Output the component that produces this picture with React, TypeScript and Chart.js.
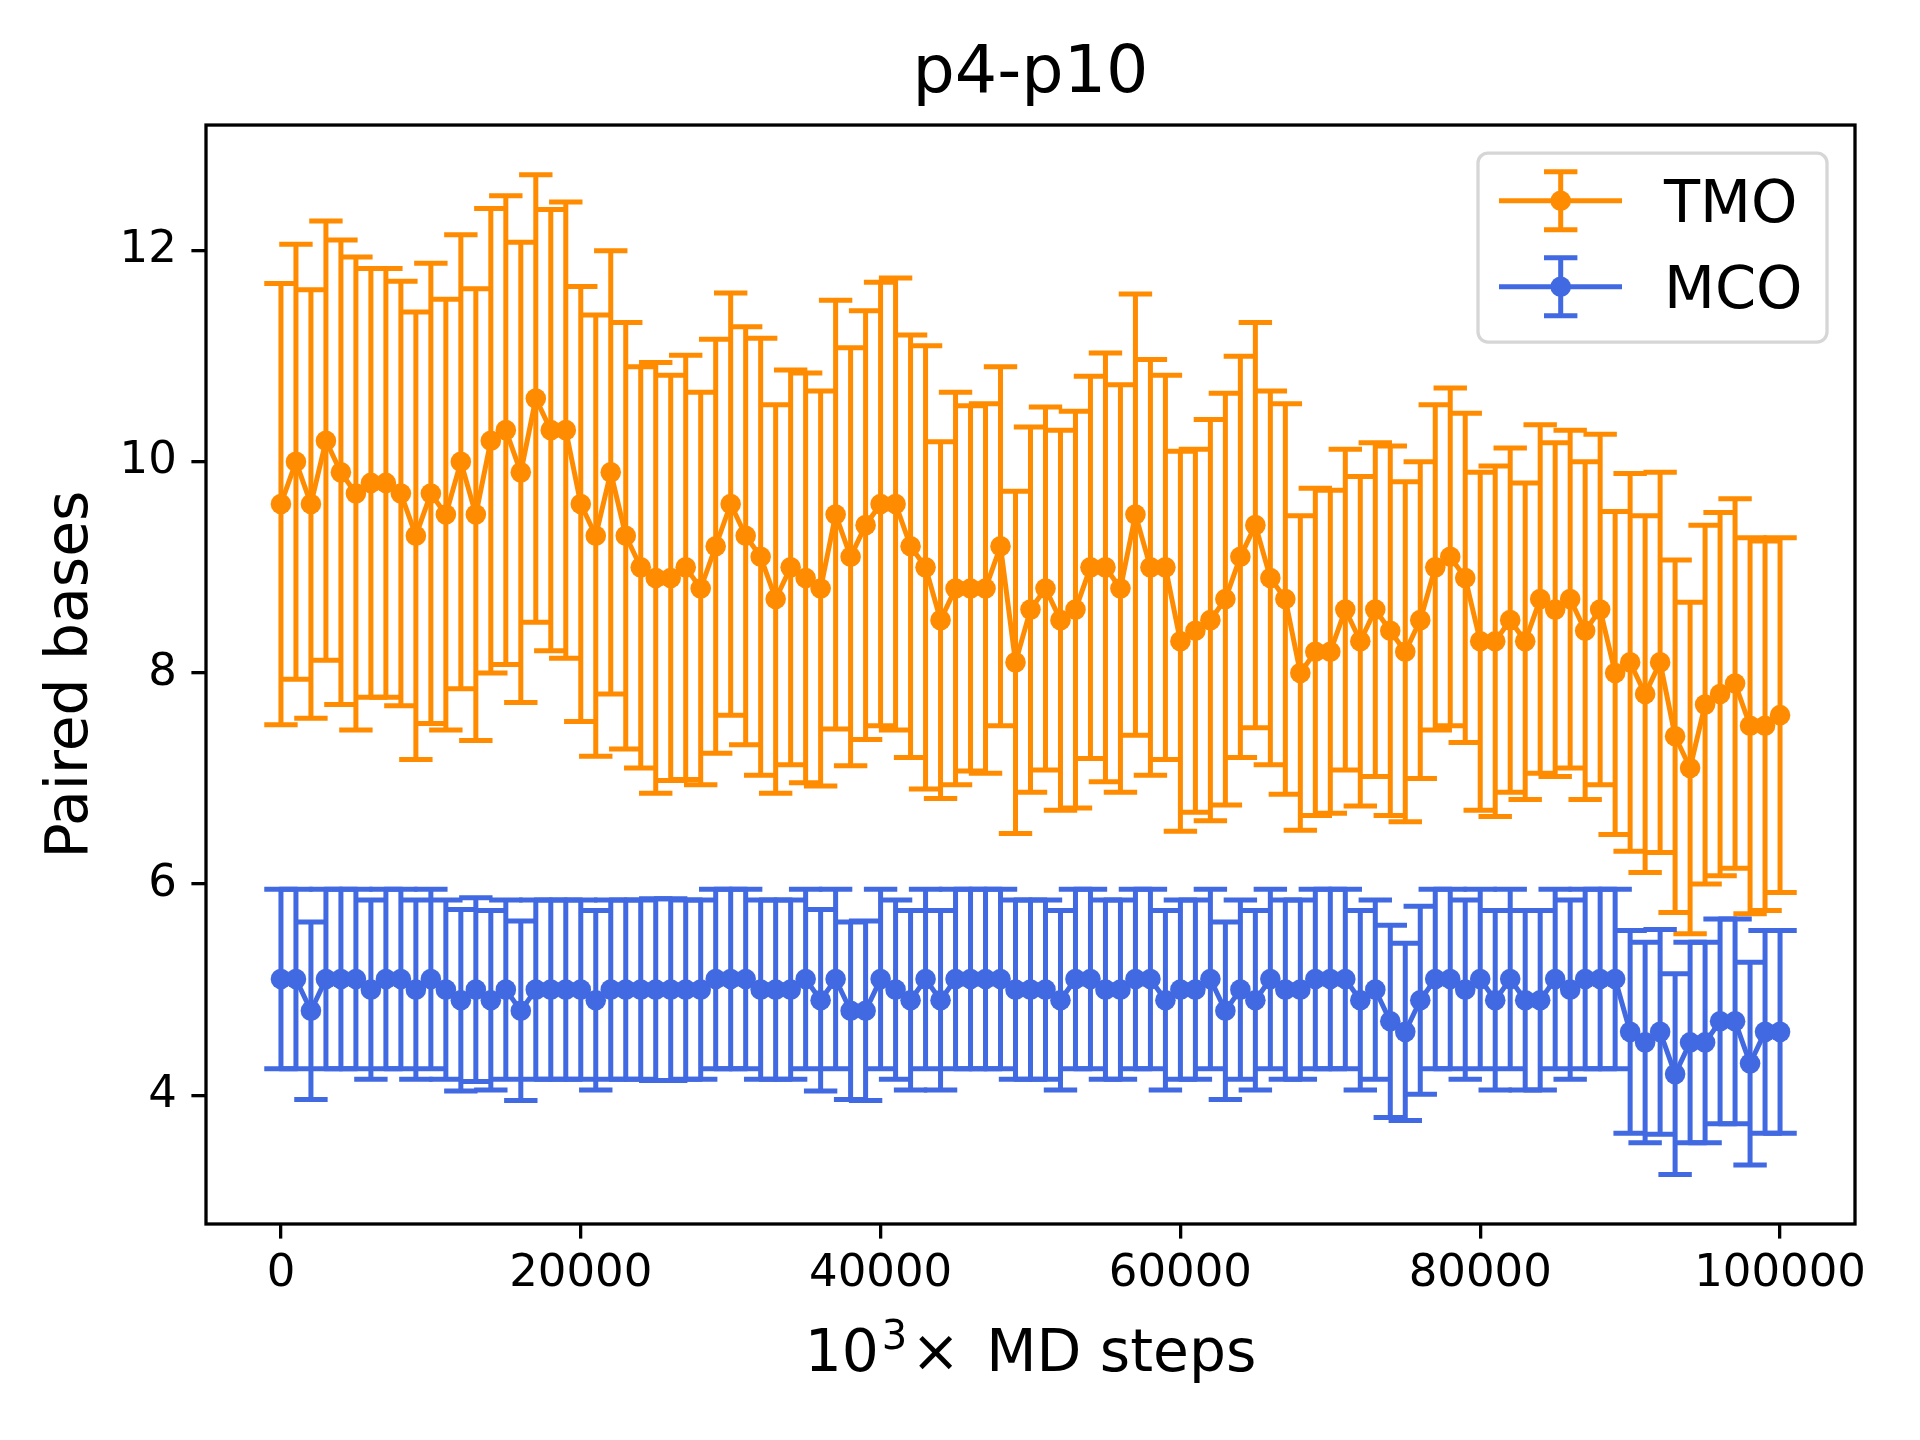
import { useEffect, useRef } from 'react';
import { Chart, registerables } from 'chart.js';

Chart.register(...registerables);

const steps = [
  0, 1000, 2000, 3000, 4000, 5000, 6000, 7000, 8000, 9000,
  10000, 11000, 12000, 13000, 14000, 15000, 16000, 17000, 18000, 19000,
  20000, 21000, 22000, 23000, 24000, 25000, 26000, 27000, 28000, 29000,
  30000, 31000, 32000, 33000, 34000, 35000, 36000, 37000, 38000, 39000,
  40000, 41000, 42000, 43000, 44000, 45000, 46000, 47000, 48000, 49000,
  50000, 51000, 52000, 53000, 54000, 55000, 56000, 57000, 58000, 59000,
  60000, 61000, 62000, 63000, 64000, 65000, 66000, 67000, 68000, 69000,
  70000, 71000, 72000, 73000, 74000, 75000, 76000, 77000, 78000, 79000,
  80000, 81000, 82000, 83000, 84000, 85000, 86000, 87000, 88000, 89000,
  90000, 91000, 92000, 93000, 94000, 95000, 96000, 97000, 98000, 99000,
  100000,
];

const tmoMean = [
  9.6, 10.0, 9.6, 10.2, 9.9, 9.7, 9.8, 9.8, 9.7, 9.3,
  9.7, 9.5, 10.0, 9.5, 10.2, 10.3, 9.9, 10.6, 10.3, 10.3,
  9.6, 9.3, 9.9, 9.3, 9.0, 8.9, 8.9, 9.0, 8.8, 9.2,
  9.6, 9.3, 9.1, 8.7, 9.0, 8.9, 8.8, 9.5, 9.1, 9.4,
  9.6, 9.6, 9.2, 9.0, 8.5, 8.8, 8.8, 8.8, 9.2, 8.1,
  8.6, 8.8, 8.5, 8.6, 9.0, 9.0, 8.8, 9.5, 9.0, 9.0,
  8.3, 8.4, 8.5, 8.7, 9.1, 9.4, 8.9, 8.7, 8.0, 8.2,
  8.2, 8.6, 8.3, 8.6, 8.4, 8.2, 8.5, 9.0, 9.1, 8.9,
  8.3, 8.3, 8.5, 8.3, 8.7, 8.6, 8.7, 8.4, 8.6, 8.0,
  8.1, 7.8, 8.1, 7.4, 7.1, 7.7, 7.8, 7.9, 7.5, 7.5,
  7.6,
];

const tmoErr = [
  2.09, 2.06, 2.03, 2.08, 2.2, 2.24, 2.03, 2.03, 2.01, 2.12,
  2.18, 2.04, 2.15, 2.14, 2.2, 2.22, 2.18, 2.12, 2.09, 2.16,
  2.06, 2.09, 2.1, 2.02, 1.9, 2.04, 1.92, 2.01, 1.86, 1.96,
  2.0, 1.98, 2.07, 1.84, 1.87, 1.94, 1.87, 2.03, 1.98, 2.03,
  2.1, 2.14, 2.0, 2.1, 1.69, 1.86, 1.73, 1.75, 1.7, 1.62,
  1.73, 1.72, 1.8, 1.88, 1.81, 2.03, 1.93, 2.09, 1.97, 1.82,
  1.8, 1.72, 1.9, 1.95, 1.9, 1.92, 1.77, 1.85, 1.49, 1.55,
  1.53, 1.52, 1.56, 1.58, 1.75, 1.61, 1.5, 1.54, 1.6, 1.56,
  1.6, 1.66, 1.63, 1.5, 1.65, 1.58, 1.6, 1.6, 1.66, 1.53,
  1.79, 1.69, 1.8, 1.67, 1.57, 1.7, 1.72, 1.75, 1.78, 1.75,
  1.68,
];

const mcoMean = [
  5.1, 5.1, 4.8, 5.1, 5.1, 5.1, 5.0, 5.1, 5.1, 5.0,
  5.1, 5.0, 4.9, 5.0, 4.9, 5.0, 4.8, 5.0, 5.0, 5.0,
  5.0, 4.9, 5.0, 5.0, 5.0, 5.0, 5.0, 5.0, 5.0, 5.1,
  5.1, 5.1, 5.0, 5.0, 5.0, 5.1, 4.9, 5.1, 4.8, 4.8,
  5.1, 5.0, 4.9, 5.1, 4.9, 5.1, 5.1, 5.1, 5.1, 5.0,
  5.0, 5.0, 4.9, 5.1, 5.1, 5.0, 5.0, 5.1, 5.1, 4.9,
  5.0, 5.0, 5.1, 4.8, 5.0, 4.9, 5.1, 5.0, 5.0, 5.1,
  5.1, 5.1, 4.9, 5.0, 4.7, 4.6, 4.9, 5.1, 5.1, 5.0,
  5.1, 4.9, 5.1, 4.9, 4.9, 5.1, 5.0, 5.1, 5.1, 5.1,
  4.6, 4.5, 4.6, 4.2, 4.5, 4.5, 4.7, 4.7, 4.3, 4.6,
  4.6,
];

const mcoErr = [
  0.85, 0.85, 0.84, 0.85, 0.85, 0.85, 0.85, 0.85, 0.85, 0.85,
  0.85, 0.85, 0.86, 0.87, 0.85, 0.85, 0.85, 0.85, 0.85, 0.85,
  0.85, 0.85, 0.85, 0.85, 0.85, 0.86, 0.86, 0.85, 0.85, 0.85,
  0.85, 0.85, 0.85, 0.85, 0.85, 0.85, 0.86, 0.85, 0.84, 0.85,
  0.85, 0.85, 0.85, 0.85, 0.85, 0.85, 0.85, 0.85, 0.85, 0.85,
  0.85, 0.85, 0.85, 0.85, 0.85, 0.85, 0.85, 0.85, 0.85, 0.85,
  0.85, 0.85, 0.85, 0.84, 0.85, 0.85, 0.85, 0.85, 0.85, 0.85,
  0.85, 0.85, 0.85, 0.85, 0.91, 0.84, 0.89, 0.85, 0.85, 0.85,
  0.85, 0.85, 0.85, 0.85, 0.85, 0.85, 0.85, 0.85, 0.85, 0.85,
  0.96, 0.95, 0.97, 0.95, 0.95, 0.95, 0.97, 0.97, 0.96, 0.96,
  0.96,
];

const xTicks = [0, 20000, 40000, 60000, 80000, 100000];
const yTicks = [4, 6, 8, 10, 12];

const seriesNames = ['TMO', 'MCO'];
const TMO_COLOR = '#ff8c00';
const MCO_COLOR = '#4169e1';

const FONT = "'DejaVu Sans', 'Liberation Sans', sans-serif";
const LINE_W = 5;
const CAP = 16.7;
const MARKER_R = 10.3;

function drawErrorSymbol(ctx: CanvasRenderingContext2D, x: number, yTop: number, yBot: number) {
  ctx.beginPath();
  ctx.moveTo(x, yTop);
  ctx.lineTo(x, yBot);
  ctx.moveTo(x - CAP, yTop);
  ctx.lineTo(x + CAP, yTop);
  ctx.moveTo(x - CAP, yBot);
  ctx.lineTo(x + CAP, yBot);
  ctx.stroke();
}

const errorBarPlugin = {
  id: 'errorBars',
  beforeDatasetDraw(chart: any, args: any) {
    const ds = chart.data.datasets[args.index];
    const errs: number[] | undefined = ds.errors;
    if (!errs) return;
    const xs = chart.scales.x;
    const ys = chart.scales.y;
    const ctx: CanvasRenderingContext2D = chart.ctx;
    ctx.save();
    ctx.strokeStyle = ds.borderColor;
    ctx.lineWidth = LINE_W;
    ctx.lineCap = 'butt';
    ds.data.forEach((p: { x: number; y: number }, i: number) => {
      const x = xs.getPixelForValue(p.x);
      const yTop = ys.getPixelForValue(p.y + errs[i]);
      const yBot = ys.getPixelForValue(p.y - errs[i]);
      drawErrorSymbol(ctx, x, yTop, yBot);
    });
    ctx.restore();
  },
};

const framePlugin = {
  id: 'frame',
  afterDraw(chart: any) {
    const { ctx, chartArea } = chart;
    ctx.save();
    ctx.strokeStyle = '#000';
    ctx.lineWidth = 3.3;
    ctx.strokeRect(chartArea.left, chartArea.top, chartArea.right - chartArea.left, chartArea.bottom - chartArea.top);
    ctx.restore();
  },
};

// x-axis label with a real superscript: "10^3 x  MD steps"
const xLabelPlugin = {
  id: 'xLabel',
  afterDraw(chart: any) {
    const { ctx, chartArea } = chart;
    const base = 58.3;
    const sup = 40;
    const baseline = chartArea.bottom + 147;
    ctx.save();
    ctx.fillStyle = '#000';
    ctx.textAlign = 'left';
    ctx.textBaseline = 'alphabetic';
    const fBase = `${base}px ${FONT}`;
    const fSup = `${sup}px ${FONT}`;
    ctx.font = fBase;
    const w10 = ctx.measureText('10').width;
    const wTimes = ctx.measureText('\u00d7').width;
    const wRest = ctx.measureText('MD steps').width;
    ctx.font = fSup;
    const w3 = ctx.measureText('3').width;
    const g1 = 3;
    const g2 = 4;
    const g3 = 26;
    const total = w10 + g1 + w3 + g2 + wTimes + g3 + wRest;
    let x = (chartArea.left + chartArea.right) / 2 - total / 2;
    ctx.font = fBase;
    ctx.fillText('10', x, baseline);
    x += w10 + g1;
    ctx.font = fSup;
    ctx.fillText('3', x, baseline - 22);
    x += w3 + g2;
    ctx.font = fBase;
    ctx.fillText('\u00d7', x, baseline);
    x += wTimes + g3;
    ctx.fillText('MD steps', x, baseline);
    ctx.restore();
  },
};

const legendPlugin = {
  id: 'errLegend',
  afterDraw(chart: any) {
    const { ctx, chartArea } = chart;
    const w = 349;
    const h = 189;
    const right = chartArea.right - 28;
    const left = right - w;
    const top = chartArea.top + 28;
    const r = 10;
    ctx.save();
    ctx.beginPath();
    ctx.moveTo(left + r, top);
    ctx.lineTo(left + w - r, top);
    ctx.arcTo(left + w, top, left + w, top + r, r);
    ctx.lineTo(left + w, top + h - r);
    ctx.arcTo(left + w, top + h, left + w - r, top + h, r);
    ctx.lineTo(left + r, top + h);
    ctx.arcTo(left, top + h, left, top + h - r, r);
    ctx.lineTo(left, top + r);
    ctx.arcTo(left, top, left + r, top, r);
    ctx.closePath();
    ctx.fillStyle = 'rgba(255,255,255,0.8)';
    ctx.fill();
    ctx.strokeStyle = '#d6d6d6';
    ctx.lineWidth = 3.3;
    ctx.stroke();

    const datasets = chart.data.datasets;
    datasets.forEach((ds: any, i: number) => {
      const cy = top + 47.7 + i * 86;
      const x0 = left + 21;
      const x1 = left + 144;
      const xm = left + 82.7;
      ctx.strokeStyle = ds.borderColor;
      ctx.fillStyle = ds.borderColor;
      ctx.lineWidth = LINE_W;
      ctx.beginPath();
      ctx.moveTo(x0, cy);
      ctx.lineTo(x1, cy);
      ctx.stroke();
      drawErrorSymbol(ctx, xm, cy - 29, cy + 29);
      ctx.beginPath();
      ctx.arc(xm, cy, MARKER_R, 0, Math.PI * 2);
      ctx.fill();
      ctx.fillStyle = '#000';
      ctx.font = `59px ${FONT}`;
      ctx.textAlign = 'left';
      ctx.textBaseline = 'alphabetic';
      ctx.fillText(ds.label, left + 186, cy + 21);
    });
    ctx.restore();
  },
};

export default function App() {
  const canvasRef = useRef<HTMLCanvasElement | null>(null);

  useEffect(() => {
    document.body.style.margin = '0';
    const canvas = canvasRef.current;
    if (!canvas) return;

    const tmoData = steps.map((s, i) => ({ x: s, y: tmoMean[i] }));
    const mcoData = steps.map((s, i) => ({ x: s, y: mcoMean[i] }));

    const chart = new Chart(canvas, {
      type: 'line',
      data: {
        datasets: [
          {
            label: seriesNames[0],
            data: tmoData,
            errors: tmoErr,
            borderColor: TMO_COLOR,
            backgroundColor: TMO_COLOR,
            pointBackgroundColor: TMO_COLOR,
            pointBorderWidth: 0,
            pointRadius: MARKER_R,
            borderWidth: LINE_W,
            tension: 0,
            fill: false,
            order: 2,
          } as any,
          {
            label: seriesNames[1],
            data: mcoData,
            errors: mcoErr,
            borderColor: MCO_COLOR,
            backgroundColor: MCO_COLOR,
            pointBackgroundColor: MCO_COLOR,
            pointBorderWidth: 0,
            pointRadius: MARKER_R,
            borderWidth: LINE_W,
            tension: 0,
            fill: false,
            order: 1,
          } as any,
        ],
      },
      options: {
        responsive: false,
        maintainAspectRatio: false,
        animation: false,
        devicePixelRatio: 1,
        layout: { padding: { left: 0, right: 65, top: 0, bottom: 0 } },
        plugins: {
          legend: { display: false },
          tooltip: { enabled: false },
          title: {
            display: true,
            fullSize: false,
            text: 'p4-p10',
            color: '#000',
            font: { family: FONT, size: 66.7, weight: 'normal', lineHeight: 1.2 },
            padding: { top: 35, bottom: 10 },
          },
        },
        scales: {
          x: {
            type: 'linear',
            min: -5000,
            max: 105000,
            afterBuildTicks: (scale: any) => {
              scale.ticks = xTicks.map((v) => ({ value: v }));
            },
            afterFit: (scale: any) => {
              scale.height = 216;
            },
            ticks: {
              autoSkip: false,
              maxRotation: 0,
              padding: 9,
              color: '#000',
              font: { family: FONT, size: 45, lineHeight: 1.2 },
              callback: (value: any) => String(value),
            },
            grid: {
              drawOnChartArea: false,
              drawTicks: true,
              tickLength: 14.6,
              tickWidth: 3.3,
              tickColor: '#000',
              lineWidth: 3.3,
              color: '#000',
            },
            border: { display: false },
            title: { display: false },
          },
          y: {
            type: 'linear',
            min: 2.78,
            max: 13.19,
            afterBuildTicks: (scale: any) => {
              scale.ticks = yTicks.map((v) => ({ value: v }));
            },
            afterFit: (scale: any) => {
              scale.width = 206;
            },
            ticks: {
              autoSkip: false,
              padding: 14.6,
              color: '#000',
              font: { family: FONT, size: 45, lineHeight: 1.2 },
              callback: (value: any) => String(value),
            },
            grid: {
              drawOnChartArea: false,
              drawTicks: true,
              tickLength: 14.6,
              tickWidth: 3.3,
              tickColor: '#000',
              lineWidth: 3.3,
              color: '#000',
            },
            border: { display: false },
            title: {
              display: true,
              text: 'Paired bases',
              color: '#000',
              font: { family: FONT, size: 58.3, lineHeight: 1.2 },
              padding: { top: 37, bottom: 0 },
            },
          },
        },
      } as any,
      plugins: [errorBarPlugin, framePlugin, xLabelPlugin, legendPlugin],
    });

    return () => {
      chart.destroy();
    };
  }, []);

  return (
    <canvas
      ref={canvasRef}
      width={1920}
      height={1440}
      style={{ display: 'block', width: '1920px', height: '1440px' }}
    />
  );
}
